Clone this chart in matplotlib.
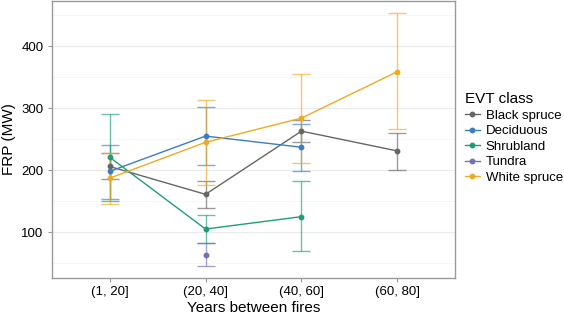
import numpy as np
import matplotlib.pyplot as plt
from matplotlib.lines import Line2D

plt.rcParams['font.family'] = ['Liberation Sans', 'DejaVu Sans']

bins = ["(1, 20]", "(20, 40]", "(40, 60]", "(60, 80]"]
classes = ["Black spruce", "Deciduous", "Shrubland", "Tundra", "White spruce"]
colors = ["#666666", "#3a7dc2", "#1f9e74", "#7570b3", "#eeaa22"]

# bin index, mean, lower, upper for each class
black_idx = [0, 1, 2, 3]
black_mean = [206, 161, 263, 231]
black_lo = [185, 139, 245, 201]
black_hi = [228, 182, 281, 260]

decid_idx = [0, 1, 2]
decid_mean = [198, 255, 237]
decid_lo = [153, 208, 198]
decid_hi = [241, 302, 275]

shrub_idx = [0, 1, 2]
shrub_mean = [221, 105, 125]
shrub_lo = [150, 82, 69]
shrub_hi = [290, 128, 182]

tundra_idx = [1]
tundra_mean = [63]
tundra_lo = [45]
tundra_hi = [83]

white_idx = [0, 1, 2, 3]
white_mean = [187, 245, 284, 359]
white_lo = [146, 176, 212, 266]
white_hi = [228, 314, 355, 453]

series = [
    (black_idx, black_mean, black_lo, black_hi),
    (decid_idx, decid_mean, decid_lo, decid_hi),
    (shrub_idx, shrub_mean, shrub_lo, shrub_hi),
    (tundra_idx, tundra_mean, tundra_lo, tundra_hi),
    (white_idx, white_mean, white_lo, white_hi),
]

fig = plt.figure(figsize=(5.64, 3.18), dpi=100)
ax = fig.add_axes([52/564, 1 - 278/318, (455-52)/564, 277/318])

for (idx, m, lo, hi), col in zip(series, colors):
    x = np.array(idx) + 1
    m = np.array(m); lo = np.array(lo); hi = np.array(hi)
    ax.errorbar(x, m, yerr=[m - lo, hi - m], fmt='none', ecolor=col,
                elinewidth=1.0, capsize=6.5, capthick=1.0, alpha=0.65, zorder=2)
    ax.plot(x, m, color=col, lw=1.0, marker='o', ms=3.2, zorder=3)

ax.set_xlim(0.4, 4.6)
ax.set_ylim(26, 473)
ax.set_xticks([1, 2, 3, 4])
ax.set_xticklabels(bins)
ax.set_yticks([100, 200, 300, 400])
ax.set_yticks([50, 150, 250, 350, 450], minor=True)
ax.grid(True, which='major', axis='y', color='#ebebeb', lw=0.8, zorder=0)
ax.grid(True, which='minor', axis='y', color='#f3f3f3', lw=0.5, zorder=0)
ax.set_axisbelow(True)
for s in ax.spines.values():
    s.set_color('#999999')
    s.set_linewidth(1.0)
ax.tick_params(axis='both', which='major', length=3, color='#999999',
               labelsize=9.5, labelcolor='black', pad=3)
ax.tick_params(axis='y', which='minor', length=0)

ax.set_xlabel("Years between fires", fontsize=11, labelpad=2)
ax.set_ylabel("FRP (MW)", fontsize=11, labelpad=4)

handles = [Line2D([0], [0], color=c, lw=1.0, marker='o', ms=3.2) for c in colors]
leg = ax.legend(handles, classes, title="EVT class", loc='upper left',
                bbox_to_anchor=(1.012, 0.69), frameon=False, fontsize=9.5,
                title_fontsize=11, handlelength=1.1, handletextpad=0.45,
                labelspacing=0.25, borderaxespad=0)
leg._legend_box.align = 'left'

fig.savefig("out.png", dpi=100)
